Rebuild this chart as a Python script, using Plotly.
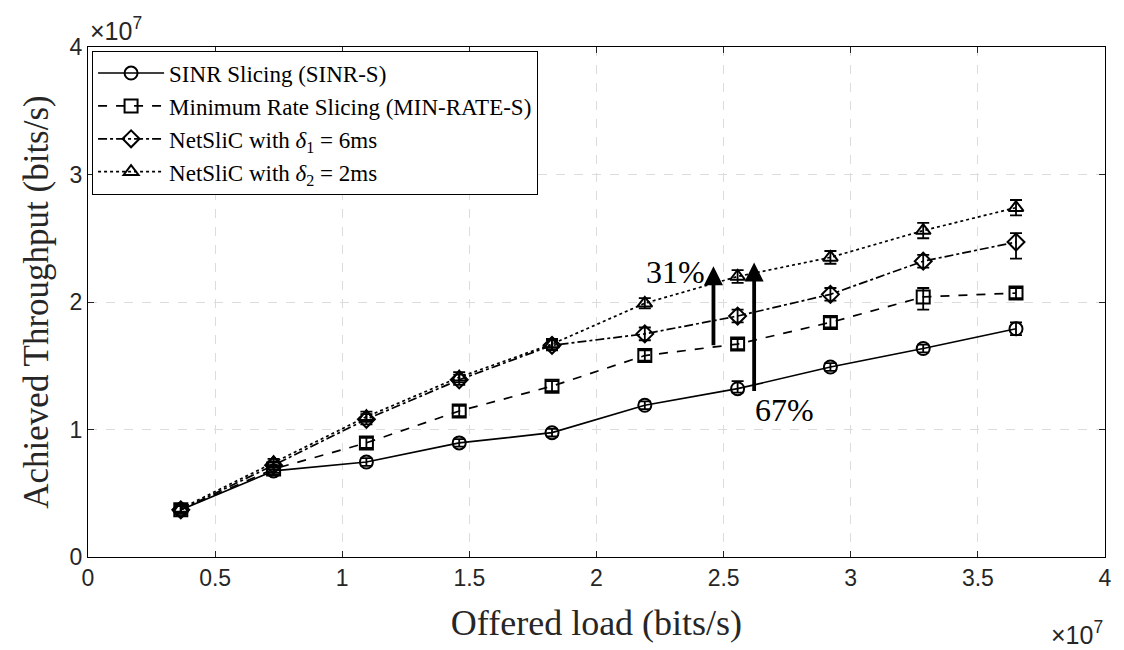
import plotly.graph_objects as go

# Offered load (units of 1e7 bits/s)
offered_load = [0.365, 0.73, 1.095, 1.46, 1.825, 2.19, 2.555, 2.92, 3.285, 3.65]

# Achieved throughput (units of 1e7 bits/s)
sinr_s = [0.37, 0.675, 0.745, 0.895, 0.975, 1.19, 1.32, 1.49, 1.635, 1.79]
sinr_s_err_up = [0.03, 0.03, 0.03, 0.03, 0.03, 0.03, 0.06, 0.03, 0.03, 0.05]
sinr_s_err_dn = [0.03, 0.03, 0.03, 0.03, 0.03, 0.03, 0.03, 0.03, 0.03, 0.05]

min_rate_s = [0.37, 0.69, 0.895, 1.145, 1.34, 1.58, 1.67, 1.84, 2.04, 2.07]
min_rate_s_err_up = [0.03, 0.03, 0.04, 0.04, 0.04, 0.04, 0.04, 0.04, 0.07, 0.04]
min_rate_s_err_dn = [0.03, 0.03, 0.04, 0.04, 0.04, 0.04, 0.04, 0.04, 0.10, 0.04]

netslic_d1 = [0.37, 0.72, 1.08, 1.39, 1.66, 1.75, 1.89, 2.06, 2.32, 2.47]
netslic_d1_err_up = [0.03, 0.03, 0.04, 0.04, 0.04, 0.05, 0.05, 0.05, 0.05, 0.07]
netslic_d1_err_dn = [0.03, 0.03, 0.04, 0.04, 0.04, 0.05, 0.05, 0.05, 0.05, 0.13]

netslic_d2 = [0.38, 0.74, 1.10, 1.41, 1.67, 1.99, 2.20, 2.35, 2.56, 2.74]
netslic_d2_err_up = [0.03, 0.03, 0.04, 0.04, 0.04, 0.04, 0.05, 0.05, 0.06, 0.06]
netslic_d2_err_dn = [0.03, 0.03, 0.04, 0.04, 0.04, 0.04, 0.05, 0.05, 0.06, 0.06]

series = [
    ("SINR Slicing (SINR-S)", sinr_s, sinr_s_err_up, sinr_s_err_dn, "solid", "circle-open"),
    ("Minimum Rate Slicing (MIN-RATE-S)", min_rate_s, min_rate_s_err_up, min_rate_s_err_dn, "dash", "square-open"),
    ("NetSliC with <i>δ</i><sub>1</sub> = 6ms", netslic_d1, netslic_d1_err_up, netslic_d1_err_dn, "dashdot", "diamond-open"),
    ("NetSliC with <i>δ</i><sub>2</sub> = 2ms", netslic_d2, netslic_d2_err_up, netslic_d2_err_dn, "dot", "triangle-up-open"),
]

x_ticks = [0, 0.5, 1, 1.5, 2, 2.5, 3, 3.5, 4]
x_tick_text = ["0", "0.5", "1", "1.5", "2", "2.5", "3", "3.5", "4"]
y_ticks = [0, 1, 2, 3, 4]
y_tick_text = ["0", "1", "2", "3", "4"]

SERIF = "Liberation Serif, Times New Roman, serif"
SANS = "Liberation Sans, Arial, sans-serif"

fig = go.Figure()
for name, y, eu, ed, dash, sym in series:
    fig.add_trace(go.Scatter(
        x=offered_load, y=y, name=name, mode="lines+markers",
        line=dict(color="black", width=1.7, dash=dash),
        marker=dict(symbol=sym, size=13, color="black", line=dict(width=2, color="black")),
        error_y=dict(type="data", symmetric=False, array=eu, arrayminus=ed,
                     color="black", thickness=1.8, width=6),
    ))

# Improvement arrows and labels
arrows = [
    # (x, y_tail, y_head, label, label_x, label_y)
    (2.46, 1.65, 2.28, "31%", 2.31, 2.235),
    (2.62, 1.29, 2.31, "67%", 2.74, 1.15),
]
for ax_x, y0, y1, label, lx, ly in arrows:
    fig.add_annotation(x=ax_x, y=y1, ax=ax_x, ay=y0, xref="x", yref="y",
                       axref="x", ayref="y", text="", showarrow=True,
                       arrowhead=2, arrowsize=1.0, arrowwidth=3.8, arrowcolor="black",
                       standoff=0)
    fig.add_annotation(x=lx, y=ly, xref="x", yref="y", text=label, showarrow=False,
                       font=dict(family=SERIF, size=32, color="black"))

# Exponent labels
fig.add_annotation(x=0.0, y=1.0, xref="paper", yref="paper", xanchor="left", yanchor="bottom",
                   text="×10<sup>7</sup>", showarrow=False, yshift=0,
                   font=dict(family=SANS, size=25, color="#262626"))
fig.add_annotation(x=1.0, y=0.0, xref="paper", yref="paper", xanchor="right", yanchor="top",
                   text="×10<sup>7</sup>", showarrow=False, yshift=-58,
                   font=dict(family=SANS, size=25, color="#262626"))

axis_common = dict(
    showline=True, linecolor="black", linewidth=1.2, mirror="ticks",
    ticks="inside", ticklen=6, tickcolor="#262626",
    showgrid=True, gridcolor="#dcdcdc", griddash="dash", gridwidth=1,
    zeroline=False, tickfont=dict(family=SANS, size=23, color="#262626"),
)

fig.update_layout(
    width=1124, height=650,
    margin=dict(l=88, r=17, t=47, b=93),
    paper_bgcolor="white", plot_bgcolor="white",
    showlegend=True,
    legend=dict(x=0.004, y=0.993, xanchor="left", yanchor="top",
                bgcolor="white", bordercolor="black", borderwidth=1,
                font=dict(family=SERIF, size=23, color="black"),
                tracegroupgap=0, itemwidth=66),
    xaxis=dict(range=[0, 4], tickvals=x_ticks, ticktext=x_tick_text,
               title=dict(text="Offered load (bits/s)", font=dict(family=SERIF, size=36, color="#262626"), standoff=20),
               **axis_common),
    yaxis=dict(range=[0, 4], tickvals=y_ticks, ticktext=y_tick_text,
               title=dict(text="Achieved Throughput (bits/s)", font=dict(family=SERIF, size=35, color="#262626"), standoff=10),
               **axis_common),
)

fig.write_html("out.html")
